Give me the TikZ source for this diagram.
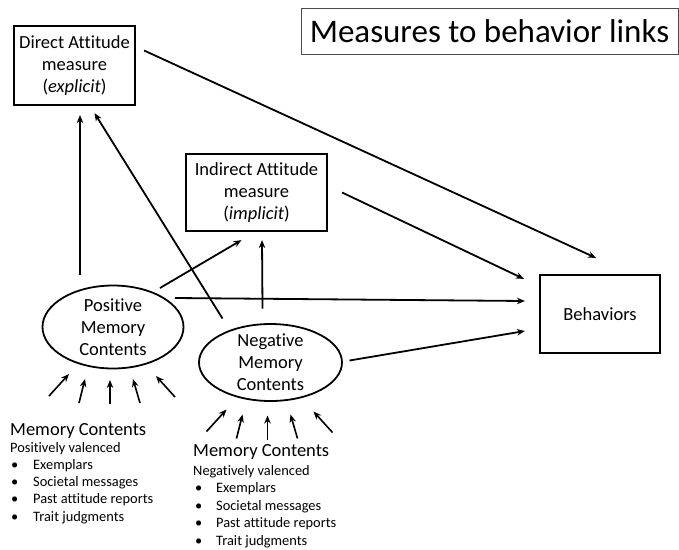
\documentclass[tikz,border=0pt]{standalone}
\usepackage{fontspec}
\setmainfont{Carlito}[Ligatures=NoCommon]
\usetikzlibrary{arrows.meta,calc,shapes.geometric}

\begin{document}
\begin{tikzpicture}[x=1pt,y=-1pt,>={Stealth[length=8pt,width=6.5pt]}]
\tikzset{
  mbox/.style={draw,line width=2.2pt,align=center,inner sep=0pt,font=\fontsize{18.5}{22}\selectfont},
  mem/.style={draw,ellipse,line width=1.8pt,align=center,inner sep=-12pt,font=\fontsize{18.5}{22}\selectfont},
  arr/.style={->,line width=1.8pt},
  feed/.style={->,line width=1.6pt},
  head/.style={anchor=base west,inner sep=0pt,font=\fontsize{18.5}{22}\selectfont},
  sub/.style={anchor=base west,inner sep=0pt,font=\fontsize{14.4}{17.4}\selectfont}
}
\useasboundingbox (0,0) rectangle (679,549);

\node[draw=black!70,line width=1pt,minimum width=377,minimum height=46,anchor=north west,
  font=\fontsize{33}{38}\selectfont] (title) at (300.5,7.5) {Measures to behavior links};

% boxes
\node[mbox,minimum width=121,minimum height=79] (dir) at (74.5,65.5) {Direct Attitude\\measure\\(\textit{explicit})};
\node[mbox,minimum width=141,minimum height=77] (ind) at (256.5,192.5) {Indirect Attitude\\measure\\(\textit{implicit})};
\node[mbox,minimum width=120,minimum height=78] (beh) at (600,314) {Behaviors};

% memory ellipses
\node[mem,minimum width=141,minimum height=83] (pos) at (113,327) {Positive\\Memory\\Contents};
\node[mem,minimum width=143,minimum height=77] (neg) at (270.5,362.5) {Negative\\Memory\\Contents};

% links to the measures
\draw[arr] ($(pos)+(-33,-52)$) -- ($(dir.south)+(5.5,9)$);
\draw[arr] ($(neg)+(-48,-44)$) -- ($(dir.south)+(20,7)$);
\draw[arr] ($(pos)+(47,-39)$) -- ($(ind.south)+(-15,8)$);
\draw[arr] ($(neg)+(-8,-54)$) -- ($(ind.south)+(5.5,8)$);

% links to behaviors
\draw[arr] ($(pos)+(62,-29)$) -- ($(beh.west)+(-14,-13)$);
\draw[arr] ($(neg)+(79,-2)$) -- ($(beh.west)+(-14,17)$);
\draw[arr] ($(ind.east)+(14,0)$) -- ($(beh.north west)+(-15,5)$);
\draw[arr] ($(dir.east)+(8,-15)$) -- ($(beh.north)+(-4,-16)$);

% memory contents feeding the ellipses
\foreach \m in {pos,neg}
  \foreach \sx/\sy/\ex/\ey in {-64/69/-44/47,-34/76/-28/52,-3/77/-3/53,27/76/20/52,62/70/43/49}
    \draw[feed] ($(\m)+(\sx,\sy)$) -- ($(\m)+(\ex,\ey)$);

% lists
\node[head] (posh) at (10,435) {Memory Contents};
\node[sub] (posv) at (10,452) {Positively valenced};
\foreach \t [count=\i] in {Exemplars,Societal messages,Past attitude reports,Trait judgments}{
  \node[sub] (posb\i) at (11,452+17.3*\i) {\textbullet};
  \node[sub] (post\i) at (33,452+17.3*\i) {\t};
}
\node[head] (negh) at (193,456) {Memory Contents};
\node[sub] (negv) at (193,475) {Negatively valenced};
\foreach \t [count=\i] in {Exemplars,Societal messages,Past attitude reports,Trait judgments}{
  \node[sub] (negb\i) at (195,475+17.6*\i) {\textbullet};
  \node[sub] (negt\i) at (216,475+17.6*\i) {\t};
}
\end{tikzpicture}
\end{document}
